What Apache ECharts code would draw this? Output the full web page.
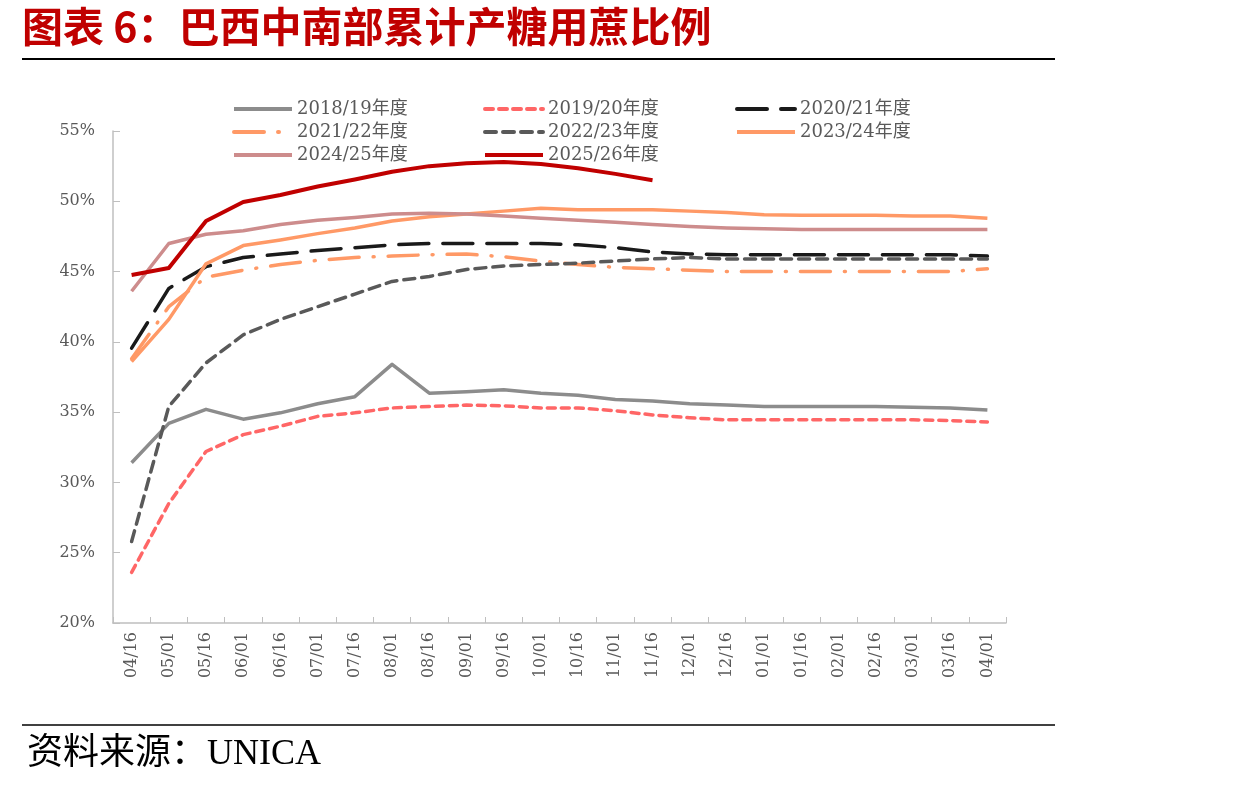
<!DOCTYPE html>
<html>
<head>
<meta charset="utf-8">
<script src="https://cdn.jsdelivr.net/npm/echarts@6/dist/echarts.min.js"></script>
<style>
html,body{margin:0;padding:0;background:#fff;}
#main{width:1239px;height:791px;}
</style>
</head>
<body>
<div id="main"></div>
<script>
const categories = ['04/16','05/01','05/16','06/01','06/16','07/01','07/16','08/01','08/16','09/01','09/16','10/01','10/16','11/01','11/16','12/01','12/16','01/01','01/16','02/01','02/16','03/01','03/16','04/01'];
const yTicks = [20, 25, 30, 35, 40, 45, 50, 55];
const seriesNames = ['2018/19年度','2019/20年度','2020/21年度','2021/22年度','2022/23年度','2023/24年度','2024/25年度','2025/26年度'];

const s1819 = [31.4, 34.2, 35.2, 34.5, 34.95, 35.6, 36.1, 38.4, 36.35, 36.45, 36.6, 36.35, 36.2, 35.9, 35.8, 35.6, 35.5, 35.4, 35.4, 35.4, 35.4, 35.35, 35.3, 35.15];
const s1920 = [23.6, 28.5, 32.2, 33.4, 34.0, 34.7, 34.95, 35.3, 35.4, 35.5, 35.45, 35.3, 35.3, 35.1, 34.8, 34.6, 34.45, 34.45, 34.45, 34.45, 34.45, 34.45, 34.4, 34.3];
const s2021 = [39.55, 43.8, 45.35, 46.0, 46.25, 46.5, 46.7, 46.9, 47.0, 47.0, 47.0, 47.0, 46.9, 46.7, 46.4, 46.25, 46.2, 46.2, 46.2, 46.2, 46.2, 46.2, 46.2, 46.1];
const s2122 = [38.8, 42.5, 44.6, 45.1, 45.5, 45.8, 46.0, 46.1, 46.2, 46.25, 46.05, 45.75, 45.5, 45.3, 45.2, 45.1, 45.0, 45.0, 45.0, 45.0, 45.0, 45.0, 45.0, 45.2];
const s2223 = [25.8, 35.4, 38.5, 40.5, 41.6, 42.5, 43.4, 44.3, 44.65, 45.15, 45.4, 45.5, 45.6, 45.75, 45.9, 46.0, 45.9, 45.9, 45.9, 45.9, 45.9, 45.9, 45.9, 45.9];
const s2324 = [38.6, 41.6, 45.55, 46.85, 47.25, 47.7, 48.1, 48.6, 48.9, 49.1, 49.3, 49.5, 49.4, 49.4, 49.4, 49.3, 49.2, 49.05, 49.0, 49.0, 49.0, 48.95, 48.95, 48.8];
const s2425 = [43.6, 47.0, 47.65, 47.9, 48.35, 48.65, 48.85, 49.1, 49.15, 49.1, 48.95, 48.8, 48.65, 48.5, 48.35, 48.2, 48.1, 48.05, 48.0, 48.0, 48.0, 48.0, 48.0, 48.0];
const s2526 = [44.75, 45.25, 48.6, 49.95, 50.45, 51.05, 51.55, 52.1, 52.5, 52.7, 52.8, 52.65, 52.35, 51.95, 51.5];

const seriesData = [s1819, s1920, s2021, s2122, s2223, s2324, s2425, s2526];
const styles = [
  {color:'#8C8C8C', width:3.5, type:'solid'},
  {color:'#FF6666', width:3.5, type:[8,6], cap:'round'},
  {color:'#1A1A1A', width:3.5, type:[30,14], cap:'round'},
  {color:'#FF9966', width:3.5, type:[30,14,1,14], cap:'round'},
  {color:'#595959', width:3.5, type:[11,7], cap:'round'},
  {color:'#FF9966', width:3.5, type:'solid'},
  {color:'#CD8C8C', width:3.5, type:'solid'},
  {color:'#C00000', width:4, type:'solid'}
];

const chart = echarts.init(document.getElementById('main'));
const serifFont = '"DejaVu Serif", "Noto Sans CJK SC", serif';

const series = seriesNames.map((name, i) => ({
  name: name,
  type: 'line',
  data: seriesData[i],
  symbol: 'none',
  smooth: false,
  z: 2 + i,
  lineStyle: {
    color: styles[i].color,
    width: styles[i].width,
    type: styles[i].type,
    cap: styles[i].cap || 'butt',
    join: 'round'
  },
  itemStyle: {color: styles[i].color}
}));

function legendCol(left, names) {
  return {
    orient: 'vertical',
    left: left,
    top: 95,
    itemWidth: 58,
    itemHeight: 14,
    itemGap: 5,
    data: names,
    itemStyle: {opacity: 0},
    lineStyle: {width: 4},
    textStyle: {fontFamily: serifFont, fontSize: 18, color: '#595959'},
    selectedMode: false
  };
}

chart.setOption({
  animation: false,
  backgroundColor: '#fff',
  legend: [
    legendCol(227, ['2018/19年度','2021/22年度','2024/25年度']),
    legendCol(478, ['2019/20年度','2022/23年度','2025/26年度']),
    legendCol(730, ['2020/21年度','2023/24年度'])
  ],
  grid: {left: 113, right: 233, top: 131, bottom: 168, containLabel: false},
  xAxis: {
    type: 'category',
    data: categories,
    boundaryGap: true,
    axisLine: {show: true, lineStyle: {color: '#BFBFBF', width: 1.5}},
    axisTick: {show: true, inside: true, length: 6, alignWithLabel: false, lineStyle: {color: '#BFBFBF'}},
    axisLabel: {rotate: 90, interval: 0, margin: 9, fontFamily: serifFont, fontSize: 16, color: '#595959'}
  },
  yAxis: {
    type: 'value',
    min: yTicks[0],
    max: yTicks[yTicks.length - 1],
    interval: yTicks[1] - yTicks[0],
    axisLine: {show: true, lineStyle: {color: '#BFBFBF', width: 1.5}},
    axisTick: {show: true, inside: true, length: 7, lineStyle: {color: '#BFBFBF'}},
    splitLine: {show: false},
    axisLabel: {formatter: '{value}%', margin: 18, fontFamily: serifFont, fontSize: 16, color: '#595959'}
  },
  series: series,
  graphic: [
    {type: 'text', left: 22, top: 6, style: {text: '图表 6：巴西中南部累计产糖用蔗比例', fill: '#C00000', font: 'bold 41px "Noto Sans CJK SC"'}},
    {type: 'line', shape: {x1: 22, y1: 59, x2: 1055, y2: 59}, style: {stroke: '#000', lineWidth: 2}},
    {type: 'line', shape: {x1: 22, y1: 725, x2: 1055, y2: 725}, style: {stroke: '#000', lineWidth: 1.5}},
    {type: 'text', left: 27, top: 737, style: {text: '资料来源：UNICA', fill: '#000', font: '36px "Liberation Serif", "Noto Sans CJK SC"'}}
  ]
});
</script>
</body>
</html>
